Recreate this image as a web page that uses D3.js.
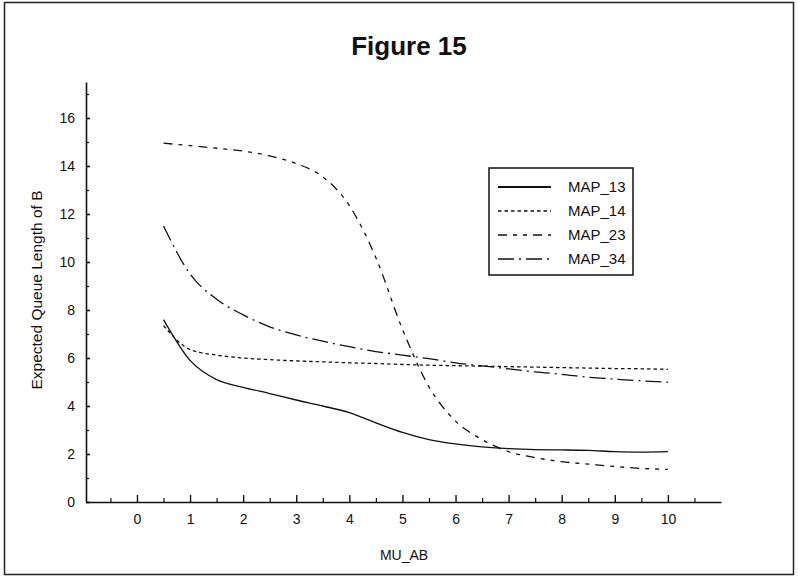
<!DOCTYPE html>
<html>
<head>
<meta charset="utf-8">
<script src="https://cdn.jsdelivr.net/npm/d3@7"></script>
<style>
  html, body { margin: 0; padding: 0; background: #fff; }
  svg { display: block; font-family: "Liberation Sans", Arial, sans-serif; }
</style>
</head>
<body>
<svg id="chart" width="798" height="577"></svg>
<script>
// ---------- data ----------
const muAB = [0.5, 1, 1.5, 2, 2.5, 3, 3.5, 4, 4.5, 5, 5.5, 6, 6.5, 7, 7.5, 8, 8.5, 9, 9.5, 10];
const map13 = [7.6, 5.9, 5.1, 4.78, 4.52, 4.25, 4.0, 3.72, 3.3, 2.9, 2.6, 2.42, 2.3, 2.22, 2.18, 2.17, 2.15, 2.1, 2.08, 2.1];
const map14 = [7.35, 6.35, 6.12, 6.0, 5.93, 5.88, 5.84, 5.8, 5.77, 5.73, 5.7, 5.68, 5.66, 5.64, 5.62, 5.6, 5.58, 5.56, 5.55, 5.53];
const map23 = [14.95, 14.85, 14.74, 14.62, 14.42, 14.1, 13.55, 12.35, 10.18, 7.2, 4.8, 3.37, 2.6, 2.1, 1.85, 1.68, 1.58, 1.48, 1.4, 1.36];
const map34 = [11.5, 9.5, 8.45, 7.8, 7.3, 6.96, 6.7, 6.47, 6.27, 6.12, 5.97, 5.8, 5.67, 5.55, 5.42, 5.32, 5.2, 5.12, 5.05, 4.99];
const seriesNames = ["MAP_13", "MAP_14", "MAP_23", "MAP_34"];
const xTickValues = [0, 1, 2, 3, 4, 5, 6, 7, 8, 9, 10];
const xMinorValues = [-0.5, 0.5, 1.5, 2.5, 3.5, 4.5, 5.5, 6.5, 7.5, 8.5, 9.5, 10.5];
const yTickValues = [0, 2, 4, 6, 8, 10, 12, 14, 16];
const yMinorValues = [1, 3, 5, 7, 9, 11, 13, 15, 17];
const title = "Figure 15";
const xTitle = "MU_AB";
const yTitle = "Expected Queue Length of B";

// ---------- styles ----------
const dashes = ["none", "3.5,3", "9,6,4,6,4,6", "16,5,2,5"];
const ink = "#111";

const svg = d3.select("#chart");

// outer frame
svg.append("rect")
  .attr("x", 4.5).attr("y", 2.5).attr("width", 789).attr("height", 572)
  .attr("fill", "none").attr("stroke", "#222").attr("stroke-width", 1.5);

// scales
const x = d3.scaleLinear().domain([-0.96, 11]).range([86, 721]);
const y = d3.scaleLinear().domain([0, 17.5]).range([502, 82]);

// title
svg.append("text")
  .attr("x", 409).attr("y", 55)
  .attr("text-anchor", "middle")
  .attr("font-size", 26).attr("font-weight", "bold")
  .attr("fill", ink)
  .text(title);

// x axis minor ticks
svg.append("g")
  .attr("transform", `translate(0,${y(0)})`)
  .call(d3.axisBottom(x).tickValues(xMinorValues).tickSize(-4).tickSizeOuter(0).tickFormat(""))
  .call(g => g.select(".domain").remove())
  .call(g => g.selectAll("line").attr("stroke", ink).attr("stroke-width", 1.2));

// x axis major
const gx = svg.append("g")
  .attr("transform", `translate(0,${y(0)})`)
  .call(d3.axisBottom(x).tickValues(xTickValues).tickSize(-7).tickSizeOuter(0).tickPadding(12));
gx.select(".domain").attr("stroke", ink).attr("stroke-width", 1.6);
gx.selectAll("line").attr("stroke", ink).attr("stroke-width", 1.4);
gx.selectAll("text").attr("font-size", 14).attr("fill", ink)
  .attr("font-family", "'Liberation Sans', Arial, sans-serif");

// y axis minor
svg.append("g")
  .attr("transform", `translate(${x(-0.96)},0)`)
  .call(d3.axisLeft(y).tickValues(yMinorValues).tickSize(-3).tickSizeOuter(0).tickFormat(""))
  .call(g => g.select(".domain").remove())
  .call(g => g.selectAll("line").attr("stroke", ink).attr("stroke-width", 1.2));

// y axis major
const gy = svg.append("g")
  .attr("transform", `translate(${x(-0.96)},0)`)
  .call(d3.axisLeft(y).tickValues(yTickValues).tickSize(-4).tickSizeOuter(0).tickPadding(11));
gy.select(".domain").attr("stroke", ink).attr("stroke-width", 1.6);
gy.selectAll("line").attr("stroke", ink).attr("stroke-width", 1.6);
gy.selectAll("text").attr("font-size", 14).attr("fill", ink)
  .attr("font-family", "'Liberation Sans', Arial, sans-serif");

// axis titles
svg.append("text")
  .attr("x", 404).attr("y", 560)
  .attr("text-anchor", "middle")
  .attr("font-size", 14).attr("fill", ink)
  .text(xTitle);

svg.append("text")
  .attr("transform", "translate(42,290) rotate(-90)")
  .attr("text-anchor", "middle")
  .attr("font-size", 15.5).attr("fill", ink)
  .text(yTitle);

// lines
const allSeries = [map13, map14, map23, map34];
const line = d3.line()
  .x(d => x(d[0]))
  .y(d => y(d[1]))
  .curve(d3.curveMonotoneX);

allSeries.forEach((vals, i) => {
  const pts = muAB.map((m, j) => [m, vals[j]]);
  svg.append("path")
    .datum(pts)
    .attr("fill", "none")
    .attr("stroke", ink)
    .attr("stroke-width", 1.3)
    .attr("stroke-dasharray", dashes[i])
    .attr("d", line);
});

// legend
const lg = svg.append("g");
lg.append("rect")
  .attr("x", 489).attr("y", 168).attr("width", 144).attr("height", 107)
  .attr("fill", "#fff").attr("stroke", ink).attr("stroke-width", 1.5);
seriesNames.forEach((name, i) => {
  const ly = 187 + i * 24;
  lg.append("line")
    .attr("x1", 498).attr("x2", 551).attr("y1", ly).attr("y2", ly)
    .attr("stroke", ink).attr("stroke-width", i === 0 ? 1.8 : 1.3)
    .attr("stroke-dasharray", dashes[i]);
  lg.append("text")
    .attr("x", 568).attr("y", ly)
    .attr("dy", "0.35em")
    .attr("font-size", 15).attr("fill", ink)
    .text(name);
});
</script>
</body>
</html>
